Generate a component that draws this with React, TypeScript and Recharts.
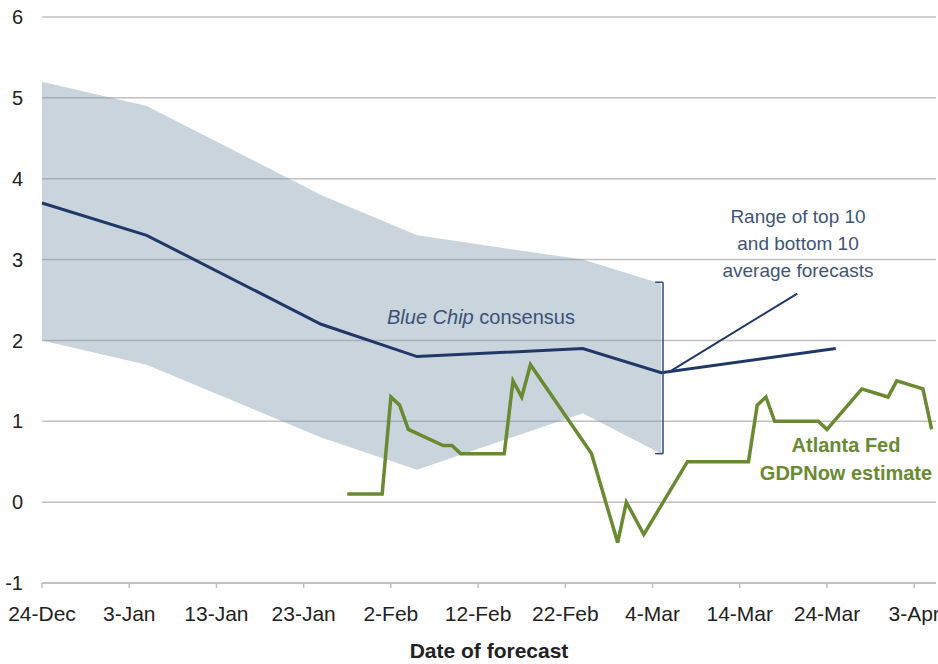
import { ComposedChart, Area, Line, XAxis, YAxis, CartesianGrid, ReferenceLine } from "recharts";

// x values are days counted from 24-Dec
const tickDays = [0, 10, 20, 30, 40, 50, 60, 70, 80, 90, 100];
const tickLabels = ["24-Dec", "3-Jan", "13-Jan", "23-Jan", "2-Feb", "12-Feb", "22-Feb", "4-Mar", "14-Mar", "24-Mar", "3-Apr"];
const yTicks = [-1, 0, 1, 2, 3, 4, 5, 6];

// Blue Chip range of top 10 / bottom 10 averages
const bandDays = [0, 12, 32, 43, 62, 71];
const bandLow = [2.0, 1.7, 0.8, 0.4, 1.1, 0.6];
const bandHigh = [5.2, 4.9, 3.8, 3.3, 3.0, 2.7];

// Blue Chip consensus
const consensusDays = [0, 12, 32, 43, 62, 71, 91];
const consensus = [3.7, 3.3, 2.2, 1.8, 1.9, 1.6, 1.9];

// Atlanta Fed GDPNow
const gdpNowDays = [35, 39, 40, 41, 42, 46, 47, 48, 53, 54, 55, 56, 63, 66, 67, 69, 74, 81, 82, 83, 84, 89, 90, 94, 97, 98, 101, 102];
const gdpNow = [0.1, 0.1, 1.3, 1.2, 0.9, 0.7, 0.7, 0.6, 0.6, 1.5, 1.3, 1.7, 0.6, -0.5, 0.0, -0.4, 0.5, 0.5, 1.2, 1.3, 1.0, 1.0, 0.9, 1.4, 1.3, 1.5, 1.4, 0.9];

const bandData = bandDays.map((d, i) => ({ day: d, range: [bandLow[i], bandHigh[i]] }));
const consensusData = consensusDays.map((d, i) => ({ day: d, v: consensus[i] }));
const gdpNowData = gdpNowDays.map((d, i) => ({ day: d, v: gdpNow[i] }));

const FONT = "'Liberation Sans', Arial, sans-serif";
const NAVY = "#1f3868";
const GREEN = "#6a8a32";
const GRID = "#c0c0c0";

export default function App() {
  return (
    <div style={{ position: "absolute", left: 0, top: 0, width: 938, height: 664, background: "#fff", fontFamily: FONT }}>
      <ComposedChart width={938} height={664} margin={{ top: 17, right: 2, left: 0, bottom: 0 }}>
        <CartesianGrid vertical={false} stroke={GRID} strokeWidth={1.5} />
        <XAxis
          dataKey="day"
          type="number"
          domain={[0, 102.5]}
          ticks={tickDays}
          interval={0}
          tickFormatter={(d) => tickLabels[tickDays.indexOf(d)]}
          height={81}
          axisLine={{ stroke: GRID, strokeWidth: 2 }}
          tickLine={{ stroke: GRID, strokeWidth: 1.5 }}
          tickSize={5}
          tickMargin={18}
          tick={{ fill: "#222", fontSize: 21, fontFamily: FONT }}
          label={{ value: "Date of forecast", position: "insideBottom", offset: 6, fill: "#222", fontSize: 21, fontWeight: "bold", fontFamily: FONT }}
        />
        <YAxis
          type="number"
          domain={[-1, 6]}
          ticks={yTicks}
          interval={0}
          width={42}
          axisLine={false}
          tickLine={false}
          tickSize={0}
          tickMargin={19}
          tick={{ fill: "#222", fontSize: 20, fontFamily: FONT }}
        />
        <Area
          data={bandData}
          dataKey="range"
          type="linear"
          stroke="none"
          fill="#7f98ad"
          fillOpacity={0.42}
          isAnimationActive={false}
        />
        <Line data={consensusData} dataKey="v" type="linear" stroke={NAVY} strokeWidth={3} dot={false} isAnimationActive={false} />
        <Line data={gdpNowData} dataKey="v" type="linear" stroke={GREEN} strokeWidth={3.5} dot={false} isAnimationActive={false} />
        {/* range bracket */}
        <ReferenceLine segment={[{ x: 71.2, y: 2.72 }, { x: 71.2, y: 0.6 }]} stroke="#2b4a7a" strokeWidth={1.5} />
        <ReferenceLine segment={[{ x: 70.3, y: 2.72 }, { x: 71.2, y: 2.72 }]} stroke="#2b4a7a" strokeWidth={1.5} />
        <ReferenceLine segment={[{ x: 70.3, y: 0.6 }, { x: 71.2, y: 0.6 }]} stroke="#2b4a7a" strokeWidth={1.5} />
        {/* pointer to the note */}
        <ReferenceLine segment={[{ x: 72.2, y: 1.63 }, { x: 86.6, y: 2.58 }]} stroke={NAVY} strokeWidth={2} />
      </ComposedChart>

      <div style={{ position: "absolute", left: 387, top: 307, fontSize: 20, lineHeight: "20px", color: "#3b5278", whiteSpace: "nowrap" }}>
        <i>Blue Chip</i> consensus
      </div>
      <div style={{ position: "absolute", left: 698, top: 203, width: 200, textAlign: "center", fontSize: 19, lineHeight: "27px", color: "#3f5578" }}>
        Range of top 10
        <br />
        and bottom 10
        <br />
        average forecasts
      </div>
      <div style={{ position: "absolute", left: 746, top: 431, width: 200, textAlign: "center", fontSize: 20, lineHeight: "28px", fontWeight: "bold", color: GREEN }}>
        Atlanta Fed
        <br />
        GDPNow estimate
      </div>
    </div>
  );
}
